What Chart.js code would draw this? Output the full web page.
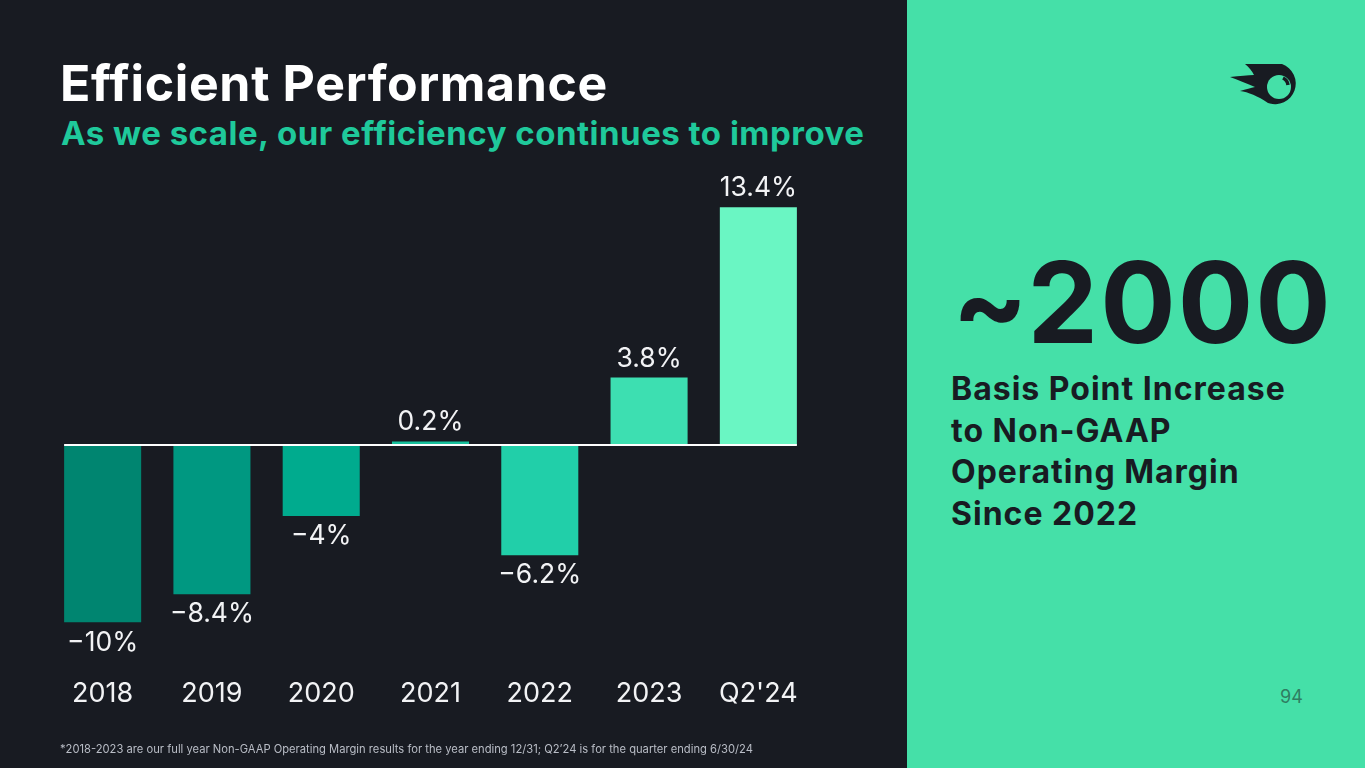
<!DOCTYPE html>
<html>
<head>
<meta charset="utf-8">
<script src="https://cdn.jsdelivr.net/npm/chart.js@4.4.1/dist/chart.umd.min.js"></script>
<style>
	html, body {
		margin: 0;
		padding: 0;
		width: 1365px;
		height: 768px;
		overflow: hidden;
		font-family: Inter, "Noto Sans", sans-serif;
	}
	#left {
		position: absolute;
		left: 0;
		top: 0;
		width: 907px;
		height: 768px;
		background: #181b22;
	}
	#right {
		position: absolute;
		left: 907px;
		top: 0;
		width: 458px;
		height: 768px;
		background: #45e0a8;
		color: #181b22;
	}
	#title {
		position: absolute;
		left: 60px;
		top: 58px;
		font-size: 50px;
		line-height: 1;
		font-weight: 700;
		color: #ffffff;
		letter-spacing: 0.65px;
		white-space: nowrap;
	}
	#subtitle {
		position: absolute;
		left: 61px;
		top: 117px;
		font-size: 33px;
		line-height: 1;
		font-weight: 700;
		color: #1fc99b;
		letter-spacing: 0.5px;
		white-space: nowrap;
	}
	#chartBox {
		position: absolute;
		left: 0;
		top: 161px;
		width: 860px;
		height: 604px;
	}
	#footnote {
		position: absolute;
		left: 60px;
		top: 742px;
		font-size: 11.2px;
		color: #b9bdc6;
		white-space: nowrap;
	}
	#big {
		position: absolute;
		left: 45px;
		top: 246px;
		font-size: 112px;
		font-weight: 700;
		letter-spacing: 2px;
		line-height: 1;
	}
	#desc {
		position: absolute;
		left: 44px;
		top: 368px;
		font-size: 32px;
		font-weight: 700;
		line-height: 41.5px;
		letter-spacing: 1px;
	}
	#page {
		position: absolute;
		left: 373px;
		top: 686px;
		font-size: 18px;
		color: #2f7d62;
	}
	#logo {
		position: absolute;
		left: 320px;
		top: 56px;
	}
</style>
</head>
<body>
<div id="left">
	<div id="title">Efficient Performance</div>
	<div id="subtitle">As we scale, our efficiency continues to improve</div>
	<div id="chartBox"><canvas id="myChart"></canvas></div>
	<div id="footnote">*2018-2023 are our full year Non-GAAP Operating Margin results for the year ending 12/31; Q2’24 is for the quarter ending 6/30/24</div>
</div>
<div id="right">
	<svg id="logo" width="80" height="60" viewBox="1227 56 80 60">
		<path d="M1245,64 L1282,64 A20,20 0 1 1 1268,103 C1258,96 1248,92 1240,91 C1246,89 1251,88 1255,87 C1246,83 1238,80 1230,77 C1240,76 1248,75 1254,75 C1252,71 1249,67 1245,64 Z" fill="#181b22"/>
		<circle cx="1279" cy="87" r="12" fill="#45e0a8"/>
		<path d="M1283,78 A9,9 0 0 1 1288,85" stroke="#181b22" stroke-width="3.5" fill="none" stroke-linecap="butt"/>
	</svg>
	<div id="big">~2000</div>
	<div id="desc">Basis Point Increase<br>to Non-GAAP<br>Operating Margin<br>Since 2022</div>
	<div id="page">94</div>
</div>

<script>
// Non-GAAP operating margin (%) by period
var periods = ["2018", "2019", "2020", "2021", "2022", "2023", "Q2'24"];
var margins = [-10, -8.4, -4, 0.2, -6.2, 3.8, 13.4];
var barColors = ["#008570", "#009881", "#00ab8e", "#17c19d", "#21cfa9", "#3ddfb1", "#6af6c3"];

function fmtPercent(v) {
	var s = Math.abs(v).toString() + "%";
	return v < 0 ? "\u2212" + s : s;
}

// value labels above positive bars, below negative ones
var valueLabels = {
	id: "valueLabels",
	afterDatasetsDraw: function (chart) {
		var ctx = chart.ctx;
		var meta = chart.getDatasetMeta(0);
		ctx.save();
		ctx.font = "400 26.5px Inter";
		ctx.fillStyle = "#f2f3f5";
		ctx.textAlign = "center";
		ctx.textBaseline = "middle";
		meta.data.forEach(function (bar, i) {
			var v = margins[i];
			var y = v >= 0 ? bar.y - 19 : bar.y + 20;
			ctx.fillText(fmtPercent(v), bar.x, y);
		});
		ctx.restore();
	},
};

// white baseline at zero, spanning first to last bar
var zeroLine = {
	id: "zeroLine",
	afterDatasetsDraw: function (chart) {
		var ctx = chart.ctx;
		var meta = chart.getDatasetMeta(0);
		var first = meta.data[0];
		var last = meta.data[meta.data.length - 1];
		var y0 = chart.scales.y.getPixelForValue(0);
		ctx.save();
		ctx.strokeStyle = "#ffffff";
		ctx.lineWidth = 2;
		ctx.beginPath();
		ctx.moveTo(first.x - first.width / 2, y0);
		ctx.lineTo(last.x + last.width / 2, y0);
		ctx.stroke();
		ctx.restore();
	},
};

var ctx = document.getElementById("myChart").getContext("2d");

var chart = new Chart(ctx, {
	type: "bar",
	data: {
		labels: periods,
		datasets: [
			{
				data: margins,
				backgroundColor: barColors,
				borderWidth: 0,
				categoryPercentage: 1,
				barPercentage: 0.705,
			},
		],
	},
	options: {
		responsive: true,
		maintainAspectRatio: false,
		animation: false,
		layout: {
			padding: { left: 48, right: 47, top: 0, bottom: 0 },
		},
		plugins: {
			legend: { display: false },
			tooltip: { enabled: false },
		},
		scales: {
			x: {
				grid: { display: false, drawTicks: false },
				border: { display: false },
				ticks: {
					color: "#f2f3f5",
					font: { family: "Inter", size: 27 },
					padding: 55,
				},
			},
			y: {
				display: false,
				min: -10,
				max: 16,
			},
		},
	},
	plugins: [valueLabels, zeroLine],
});
</script>
</body>
</html>
